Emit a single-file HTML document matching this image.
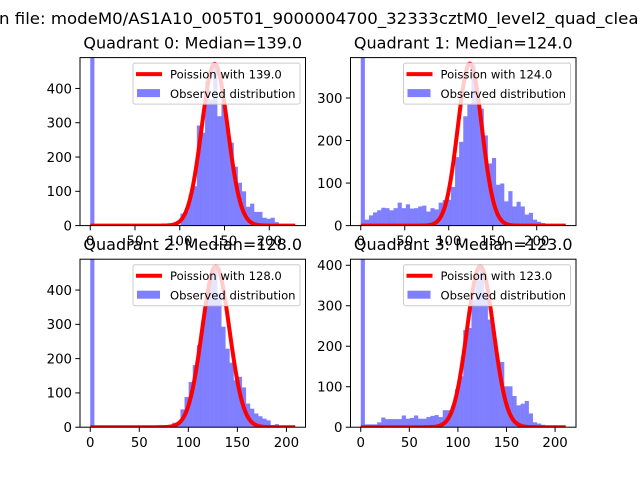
<!DOCTYPE html>
<html><head><meta charset="utf-8"><style>
html,body{margin:0;padding:0;background:#fff;}
svg{display:block;font-family:"DejaVu Sans","Liberation Sans",sans-serif;}
</style></head><body>
<svg id="fig" width="640" height="480" viewBox="0 0 640 480">
<text x="-1" y="24" font-size="16" fill="#000" textLength="650" lengthAdjust="spacingAndGlyphs">n file: modeM0/AS1A10_005T01_9000004700_32333cztM0_level2_quad_clean</text>
</svg>
<script>
// ---- data ----
const quadrantNames = ["Quadrant 0", "Quadrant 1", "Quadrant 2", "Quadrant 3"];
const medians = [139.0, 124.0, 128.0, 123.0];
const dataMax = [229, 233, 209, 211];
const yMax = [490, 395, 490, 415];
const curvePeaks = [472, 381, 470, 398];
const curveWidthFactor = [1.23, 1.23, 1.23, 1.23];
const yTicks0 = [0, 100, 200, 300, 400];
const yTicks1 = [0, 100, 200, 300];
const yTicks2 = [0, 100, 200, 300, 400];
const yTicks3 = [0, 100, 200, 300, 400];
const xTicks = [0, 50, 100, 150, 200];
const counts0 = [1000,0,0,0,0,0,0,0,0,0,0,0,0,0,0,0,0,0,0,0,1,2,35,42,90,115,292,271,423,367,469,319,367,286,242,172,125,100,55,64,40,40,23,20,23,10,2,1,1,0];
const counts1 = [1000,14,24,31,36,42,41,36,41,54,41,50,40,41,45,47,33,41,38,54,60,61,91,161,197,257,285,379,304,275,212,146,159,96,99,57,81,45,56,45,26,30,14,9,6,2,2,1,1,0];
const counts2 = [1000,0,0,0,0,0,0,0,0,0,0,0,0,0,0,0,0,1,2,5,13,14,52,88,132,181,239,307,380,438,467,390,293,229,188,137,147,116,69,54,40,32,25,20,6,9,2,1,0,0];
const counts3 = [1000,7,7,7,12,24,20,20,20,20,29,21,23,29,21,21,25,28,30,25,42,42,53,94,126,240,245,314,363,396,334,266,235,163,161,101,101,77,54,58,65,34,12,9,6,2,1,1,0,0];
const allCounts = [counts0, counts1, counts2, counts3];
const allYTicks = [yTicks0, yTicks1, yTicks2, yTicks3];

const NS = "http://www.w3.org/2000/svg";
const svg = document.getElementById("fig");
function mk(tag, attrs, parent){
  const e = document.createElementNS(NS, tag);
  for (const k in attrs) e.setAttribute(k, attrs[k]);
  (parent||svg).appendChild(e);
  return e;
}
const boxes = [
  {x0:80, x1:305.5, y0:57.6, y1:225.6},
  {x0:350.5, x1:576, y0:57.6, y1:225.6},
  {x0:80, x1:305.5, y0:259.2, y1:427.2},
  {x0:350.5, x1:576, y0:259.2, y1:427.2}
];
const defs = mk("defs", {});
boxes.forEach((b, q) => {
  const D = dataMax[q], counts = allCounts[q];
  const xmin = -0.05*D, xmax = 1.05*D;
  const X = v => b.x0 + (v - xmin)/(xmax - xmin)*(b.x1 - b.x0);
  const Y = v => b.y1 - v/yMax[q]*(b.y1 - b.y0);
  const g = mk("g", {});
  
  
  const cp = mk("clipPath", {id:"clip"+q}, defs);
  mk("rect", {x:b.x0, y:b.y0, width:b.x1-b.x0, height:b.y1-b.y0}, cp);
  const plot = mk("g", {"clip-path":"url(#clip"+q+")"}, g);
  const nb = counts.length, bw = D/nb;
  counts.forEach((c, i) => {
    if (c <= 0) return;
    const r = mk("rect", {x:X(i*bw), y:Y(c), width:X((i+1)*bw)-X(i*bw)+0.05, height:Y(0)-Y(c), fill:"#0000ff", "fill-opacity":0.5}, plot);
    
    
  });
  const lam = medians[q];
  const sig = curveWidthFactor[q]*Math.sqrt(lam);
  let d = "";
  for (let k = 0; k <= Math.floor(D); k++){
    const v = curvePeaks[q]*Math.exp(-(k-lam)*(k-lam)/(2*sig*sig));
    d += (k ? "L" : "M") + X(k).toFixed(2) + "," + Y(v).toFixed(2);
  }
  const path = mk("path", {d:d, fill:"none", stroke:"#ff0000", "stroke-width":4, "stroke-linejoin":"round"}, plot);
  
  
  const fr = mk("rect", {x:b.x0, y:b.y0, width:b.x1-b.x0, height:b.y1-b.y0, fill:"none", stroke:"#000", "stroke-width":1}, g);
  
  
  xTicks.forEach(t => {
    mk("line", {x1:X(t), x2:X(t), y1:b.y1, y2:b.y1+4.7, stroke:"#000", "stroke-width":1}, g);
    const tx = mk("text", {x:X(t), y:b.y1+20, "font-size":13.3, "text-anchor":"middle"}, g);
    tx.textContent = t;
    
    
  });
  allYTicks[q].forEach(t => {
    mk("line", {x1:b.x0-4.7, x2:b.x0, y1:Y(t), y2:Y(t), stroke:"#000", "stroke-width":1}, g);
    const ty = mk("text", {x:b.x0-8, y:Y(t)+4.8, "font-size":13.3, "text-anchor":"end"}, g);
    ty.textContent = t;
    
    
  });
  const tt = mk("text", {x:(b.x0+b.x1)/2, y:b.y0-9, "font-size":16, "text-anchor":"middle"}, g);
  tt.textContent = quadrantNames[q] + ": Median=" + medians[q].toFixed(1);
  
  
  const lg = mk("g", {}, g);
  
  
  const lx = b.x1 - 5.5 - 167, ly = b.y0 + 5.5;
  mk("rect", {x:lx, y:ly, width:167, height:41, rx:2, fill:"#fff", "fill-opacity":0.8, stroke:"#ccc", "stroke-width":1}, lg);
  mk("line", {x1:lx+3, x2:lx+29, y1:ly+11, y2:ly+11, stroke:"#ff0000", "stroke-width":4}, lg);
  const l1 = mk("text", {x:lx+37, y:ly+15.5, "font-size":11.6}, lg);
  l1.textContent = "Poission with " + medians[q].toFixed(1);
  
  
  mk("rect", {x:lx+4, y:ly+26, width:23, height:8, fill:"#0000ff", "fill-opacity":0.5}, lg);
  const l2 = mk("text", {x:lx+37, y:ly+35, "font-size":11.6}, lg);
  l2.textContent = "Observed distribution";
  
  
});
</script>
</body></html>
